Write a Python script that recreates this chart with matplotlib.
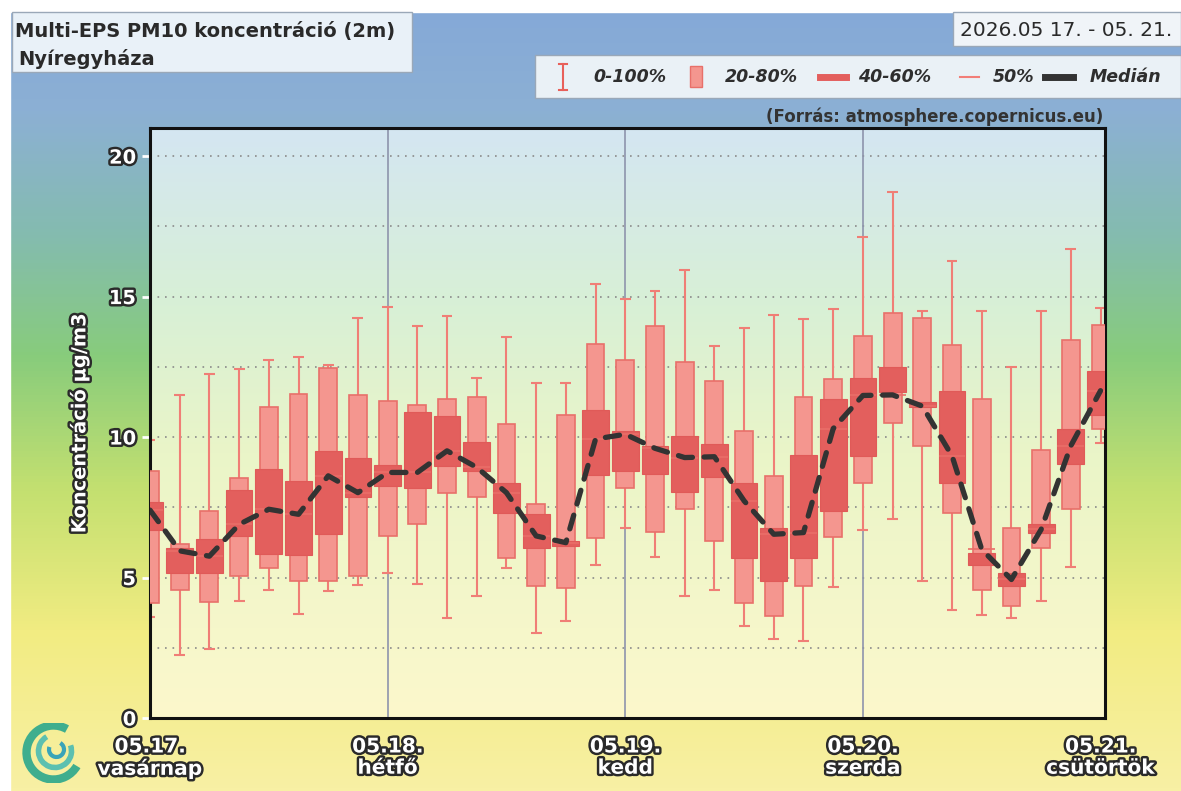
import numpy as np
import matplotlib
matplotlib.use('Agg')
import matplotlib.pyplot as plt
import matplotlib.patheffects as pe
from matplotlib.colors import LinearSegmentedColormap
from matplotlib.patches import Rectangle, Arc
from matplotlib.lines import Line2D

# time of each box in hours from 05.17. 00h
hours = list(range(0, 97, 3))
# ensemble percentiles, ug/m3
p0 = [3.6, 2.25, 2.45, 4.18, 4.57, 3.70, 4.51, 4.75, 5.17, 4.77, 3.56, 4.33, 5.35, 3.02, 3.44, 5.46, 6.77,
      5.73, 4.36, 4.55, 3.26, 2.81, 2.73, 4.67, 6.68, 7.07, 4.89, 3.86, 3.68, 3.56, 4.15, 5.38, 9.8]
p20 = [4.1, 4.57, 4.12, 5.05, 5.35, 4.87, 4.89, 5.07, 6.48, 6.92, 8.0, 7.85, 5.7, 4.71, 4.63, 6.39, 8.2,
       6.62, 7.43, 6.3, 4.1, 3.64, 4.71, 6.44, 8.38, 10.5, 9.69, 7.31, 4.57, 4.0, 6.04, 7.43, 10.29]
p40 = [6.7, 5.17, 5.17, 6.48, 5.82, 5.79, 6.54, 7.88, 8.26, 8.18, 8.98, 8.8, 7.31, 6.06, 6.12, 8.64, 8.8,
       8.68, 8.06, 8.58, 5.68, 4.89, 5.68, 7.37, 9.33, 11.6, 11.06, 8.36, 5.44, 4.69, 6.6, 9.04, 10.79]
p60 = [7.7, 6.05, 6.38, 8.12, 8.86, 8.44, 9.49, 9.25, 9.01, 10.88, 10.76, 9.83, 8.35, 7.25, 6.3, 10.98, 10.23,
       9.69, 10.02, 9.77, 8.38, 6.77, 9.36, 11.36, 12.11, 12.49, 11.26, 11.63, 5.88, 5.17, 6.89, 10.29, 12.35]
p80 = [8.8, 6.18, 7.37, 8.54, 11.08, 11.54, 12.45, 11.48, 11.3, 11.14, 11.36, 11.42, 10.46, 7.61, 10.79, 13.32, 12.75,
       13.94, 12.67, 11.99, 10.2, 8.6, 11.42, 12.07, 13.58, 14.42, 14.24, 13.29, 11.36, 6.75, 9.55, 13.46, 13.98]
p100 = [9.9, 11.48, 12.23, 12.43, 12.75, 12.85, 12.57, 14.24, 14.63, 13.94, 14.31, 12.1, 13.56, 11.92, 11.92, 15.46, 14.9,
        15.19, 15.96, 13.23, 13.89, 14.33, 14.21, 14.57, 17.13, 18.71, 14.49, 16.26, 14.48, 12.51, 14.49, 16.69, 14.6]
median = [7.4, 5.95, 5.76, 6.89, 7.43, 7.25, 8.62, 8.02, 8.74, 8.74, 9.51, 8.92, 8.02, 6.48, 6.24, 9.93, 10.1,
          9.6, 9.27, 9.3, 7.73, 6.54, 6.6, 10.3, 11.48, 11.5, 11.1, 9.33, 6.0, 4.93, 6.71, 9.69, 11.65]
day_hours = [0, 24, 48, 72, 96]
day_labels = ['05.17.\nvasárnap', '05.18.\nhétfő', '05.19.\nkedd', '05.20.\nszerda', '05.21.\ncsütörtök']
yticks = [0, 5, 10, 15, 20]

W, H = 1181, 791
def fx(px):
    return px / W
def fy(py):
    return 1 - py / H

plt.rcParams['font.family'] = ['DejaVu Sans']
fig = plt.figure(figsize=(W / 100, H / 100), dpi=100)

# background gradient of the whole picture
bg = fig.add_axes([0, 0, 1, 1], zorder=-10)
bg_cmap = LinearSegmentedColormap.from_list('bg', [(0, '#84a8d8'), (0.14, '#8cb0d4'), (0.3, '#84bcae'),
                                                   (0.45, '#88cc7c'), (0.62, '#c4e070'), (0.8, '#f2ec82'),
                                                   (1, '#f8f0a4')])
bg.imshow(np.linspace(0, 1, 256).reshape(-1, 1), aspect='auto', cmap=bg_cmap, extent=[0, 1, 0, 1])
bg.add_patch(Rectangle((0, fy(12)), 1, 1, color='white'))
bg.add_patch(Rectangle((0, 0), fx(10), 1, color='white'))
bg.set_xlim(0, 1)
bg.set_ylim(0, 1)
bg.axis('off')

ax = fig.add_axes([fx(150), fy(718), fx(1105) - fx(150), fy(128) - fy(718)])
in_cmap = LinearSegmentedColormap.from_list('in', [(0, '#d4e6f2'), (0.3, '#d8f0d6'), (0.55, '#eaf5c8'),
                                                   (1, '#fcf8cc')])
ax.imshow(np.linspace(0, 1, 256).reshape(-1, 1), aspect='auto', cmap=in_cmap,
          extent=[0, 96.45, 0, 21], zorder=0)

# grid
for v in [2.5, 5, 7.5, 10, 12.5, 15, 17.5, 20]:
    ax.axhline(v, color='#8a8a8a', lw=1.2, ls=(0, (1, 3.5)), zorder=1)
for d in day_hours[1:-1]:
    ax.axvline(d, color='#8e94ac', lw=1.2, zorder=1)

# boxes
light = '#f4968f'
dark = '#e35f5d'
ax.vlines(hours, p0, p100, color='#f07e76', lw=1.5, zorder=2)
ax.hlines(p0, np.array(hours) - 0.55, np.array(hours) + 0.55, color='#f07e76', lw=1.5, zorder=2)
ax.hlines(p100, np.array(hours) - 0.55, np.array(hours) + 0.55, color='#f07e76', lw=1.5, zorder=2)
ax.bar(hours, np.array(p80) - np.array(p20), bottom=p20, width=1.8, color=light,
       edgecolor='#e8706a', lw=1.2, zorder=3)
ax.bar(hours, np.array(p60) - np.array(p40), bottom=p40, width=2.7, color=dark,
       edgecolor='#e05a58', lw=0.8, zorder=4)
ax.hlines(median, np.array(hours) - 1.35, np.array(hours) + 1.35, color='#ea6e69', lw=1.2, zorder=5)
ax.plot(hours, median, color='#333333', lw=3.8, ls=(0, (2.7, 2.2)), solid_capstyle='round',
        dash_capstyle='round', zorder=6)

ax.set_xlim(0, 96.45)
ax.set_ylim(0, 21)
for s in ax.spines.values():
    s.set_color('#111111')
    s.set_linewidth(2.2)

outline = [pe.withStroke(linewidth=3.5, foreground='#2a2a2a')]
ax.set_yticks(yticks)
ax.set_yticklabels([str(t) for t in yticks], color='white', fontsize=14, fontweight='bold',
                   path_effects=outline)
ax.tick_params(axis='y', length=6, width=2, color='white', pad=4)
ax.set_xticks(day_hours)
ax.set_xticklabels(day_labels, color='white', fontsize=14.5, fontweight='bold', path_effects=outline,
                   linespacing=1.15)
ax.tick_params(axis='x', length=0, pad=14)
ax.set_ylabel('Koncentráció µg/m3', color='white', fontsize=14, fontweight='bold',
              path_effects=outline, labelpad=14)

# title box
fig.patches.append(Rectangle((fx(12), fy(72)), fx(412) - fx(12), fy(12) - fy(72), transform=fig.transFigure,
                             facecolor='#e9f1f8', edgecolor='#9aa8b8', lw=1, zorder=1))
fig.text(fx(15), fy(31), 'Multi-EPS PM10 koncentráció (2m)', fontsize=14, color='#2a2a2a',
         fontweight='bold', va='center', ha='left')
fig.text(fx(18), fy(59), 'Nyíregyháza', fontsize=14, color='#2a2a2a', fontweight='bold',
         va='center', ha='left')

# date box
fig.patches.append(Rectangle((fx(953), fy(46)), fx(1181) - fx(953), fy(12) - fy(46), transform=fig.transFigure,
                             facecolor='#f0f4f8', edgecolor='#9aa8b8', lw=1, zorder=1))
fig.text(fx(960), fy(30), '2026.05 17. - 05. 21.', fontsize=14.5, color='#2a2a2a', va='center', ha='left')

# legend box
fig.patches.append(Rectangle((fx(535), fy(98)), fx(1181) - fx(535), fy(55) - fy(98), transform=fig.transFigure,
                             facecolor='#eaf1f6', edgecolor='#9aa8b8', lw=1, zorder=1))
ly = fy(77)
fig.add_artist(Line2D([fx(563), fx(563)], [fy(64), fy(90)], color='#e8605a', lw=1.5, transform=fig.transFigure))
fig.add_artist(Line2D([fx(559), fx(567)], [fy(64), fy(64)], color='#e8605a', lw=1.5, transform=fig.transFigure))
fig.add_artist(Line2D([fx(559), fx(567)], [fy(90), fy(90)], color='#e8605a', lw=1.5, transform=fig.transFigure))
fig.patches.append(Rectangle((fx(690), fy(87)), fx(702) - fx(690), fy(66) - fy(87), transform=fig.transFigure,
                             facecolor=light, edgecolor='#e8706a', lw=1))
fig.add_artist(Line2D([fx(820), fx(846)], [ly, ly], color=dark, lw=5, transform=fig.transFigure))
fig.add_artist(Line2D([fx(960), fx(979)], [ly, ly], color='#f27e78', lw=1.5, transform=fig.transFigure))
fig.add_artist(Line2D([fx(1045), fx(1073)], [ly, ly], color='#333333', lw=5, transform=fig.transFigure))
for px, t in [(593, '0-100%'), (725, '20-80%'), (858, '40-60%'), (993, '50%'), (1090, 'Medián')]:
    fig.text(fx(px), ly, t, fontsize=12.5, fontstyle='italic', fontweight='bold', color='#2e2e2e',
             va='center', ha='left')

fig.text(fx(1103), fy(117), '(Forrás: atmosphere.copernicus.eu)', fontsize=12, fontweight='bold',
         color='#333333', va='center', ha='right')

# logo swirl
lg = fig.add_axes([fx(22), fy(785), fx(60), fy(720) - fy(785)])
lg.set_xlim(-1, 1)
lg.set_ylim(-1, 1)
lg.set_aspect('equal')
lg.axis('off')
lg.add_patch(Arc((0.05, 0), 1.8, 1.8, theta1=60, theta2=330, color='#3fae8e', lw=6))
lg.add_patch(Arc((0.1, 0.05), 1.1, 1.1, theta1=120, theta2=380, color='#5cc0b0', lw=4))
lg.add_patch(Arc((0.15, 0.1), 0.5, 0.5, theta1=160, theta2=420, color='#3aa4b8', lw=3))

fig.savefig('out.png', dpi=100)
